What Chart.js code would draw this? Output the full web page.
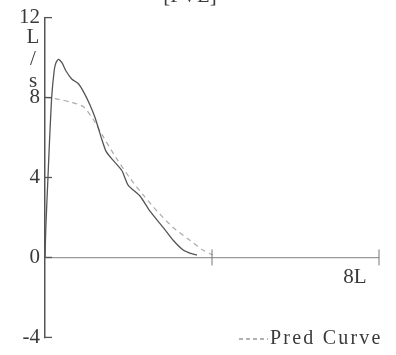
<!DOCTYPE html>
<html>
<head>
<meta charset="utf-8">
<script src="https://cdn.jsdelivr.net/npm/chart.js@4.4.1/dist/chart.umd.min.js"></script>
<style>
html,body{margin:0;padding:0;background:#fff;}
#wrap{width:396px;height:355px;}
</style>
</head>
<body>
<div id="wrap"><canvas id="c" width="396" height="355"></canvas></div>
<script>
// Measured flow-volume curve (volume L, flow L/s)
const measuredVolume = [0, 0.02, 0.07, 0.11, 0.16, 0.22, 0.26, 0.32, 0.41, 0.50, 0.64, 0.80, 0.93, 1.08, 1.20, 1.36, 1.46, 1.60, 1.84, 1.99, 2.28, 2.51, 2.83, 3.07, 3.31, 3.47, 3.64];
const measuredFlow   = [0, 1.50, 3.95, 5.90, 8.01, 9.34, 9.73, 9.91, 9.73, 9.34, 8.93, 8.69, 8.26, 7.62, 6.99, 5.91, 5.32, 4.93, 4.35, 3.62, 3.06, 2.33, 1.50, 0.86, 0.37, 0.22, 0.12];
// Predicted curve
const predVolume = [0.02, 0.36, 0.60, 0.92, 1.16, 1.39, 1.72, 2.04, 2.35, 2.68, 3.07, 3.47, 3.78, 4.02];
const predFlow   = [8.01, 7.90, 7.78, 7.54, 6.89, 6.06, 4.93, 3.95, 3.13, 2.33, 1.50, 0.86, 0.37, 0.12];
// Axis ticks and labels
const yTicks = [12, 8, 4, 0, -4];
const xTicks = [4, 8];
const xEndLabel = '8L';
const yUnitChars = ['L', '/', 's'];
const titleText = '[FVL]';
const legendText = 'Pred Curve';

const FONT = "'Liberation Serif', 'DejaVu Serif', serif";
const TEXT = '#3a3a3a';

const toPoints = (xs, ys) => xs.map((x, i) => ({x: x, y: ys[i]}));

const chrome = {
  id: 'chrome',
  afterDraw(chart) {
    const ctx = chart.ctx;
    const xs = chart.scales.x, ys = chart.scales.y;
    const left = chart.chartArea.left;
    const y0 = ys.getPixelForValue(0);
    ctx.save();
    ctx.strokeStyle = '#555';
    ctx.lineWidth = 1.3;
    // inward y ticks
    yTicks.forEach(v => {
      const y = ys.getPixelForValue(v);
      ctx.beginPath(); ctx.moveTo(left - 1, y); ctx.lineTo(left + 7, y); ctx.stroke();
    });
    // x ticks crossing the zero line
    ctx.strokeStyle = '#777';
    ctx.lineWidth = 1;
    xTicks.forEach(v => {
      const x = xs.getPixelForValue(v);
      ctx.beginPath(); ctx.moveTo(x, y0 - 8); ctx.lineTo(x, y0 + 8); ctx.stroke();
    });
    ctx.fillStyle = TEXT;
    ctx.font = '21px ' + FONT;
    ctx.textAlign = 'center';
    ctx.textBaseline = 'middle';
    // unit label stacked
    const unitY = [37, 59, 81];
    yUnitChars.forEach((ch, i) => ctx.fillText(ch, 33, unitY[i]));
    // x end label
    ctx.fillText(xEndLabel, 355, 277);
    // title (cut off at top)
    ctx.textBaseline = 'alphabetic';
    ctx.fillText(titleText, 190, 2);
    // legend
    ctx.strokeStyle = '#999';
    ctx.lineWidth = 1.3;
    ctx.setLineDash([4, 3]);
    ctx.beginPath(); ctx.moveTo(239, 339); ctx.lineTo(268, 339); ctx.stroke();
    ctx.setLineDash([]);
    ctx.textAlign = 'left';
    ctx.textBaseline = 'middle';
    ctx.font = '20px ' + FONT;
    if ('letterSpacing' in ctx) ctx.letterSpacing = '2.2px';
    ctx.fillText(legendText, 270, 339);
    ctx.restore();
  }
};

new Chart(document.getElementById('c'), {
  type: 'line',
  data: {
    datasets: [
      {
        label: 'Measured',
        data: toPoints(measuredVolume, measuredFlow),
        borderColor: '#555555',
        borderWidth: 1.3,
        pointRadius: 0,
        tension: 0.2,
        fill: false
      },
      {
        label: legendText,
        data: toPoints(predVolume, predFlow),
        borderColor: '#ababab',
        borderWidth: 1.2,
        borderDash: [5, 4],
        pointRadius: 0,
        tension: 0.25,
        fill: false
      }
    ]
  },
  options: {
    responsive: false,
    animation: false,
    layout: {padding: {top: 16, right: 17, bottom: 13, left: 0}},
    plugins: {legend: {display: false}, tooltip: {enabled: false}, title: {display: false}},
    scales: {
      x: {
        type: 'linear', min: 0, max: 8, display: false
      },
      y: {
        type: 'linear', min: -4, max: 12,
        afterFit: s => { s.width = 45; },
        afterBuildTicks: s => { s.ticks = yTicks.map(v => ({value: v})); },
        ticks: {
          font: {family: FONT, size: 21},
          color: TEXT,
          padding: 5
        },
        grid: {
          drawTicks: false,
          color: c => (c.tick && c.tick.value === 0) ? '#9a9a9a' : 'rgba(0,0,0,0)',
          lineWidth: 1.2
        },
        border: {display: true, color: '#555', width: 1.5}
      }
    }
  },
  plugins: [chrome]
});
</script>
</body>
</html>
